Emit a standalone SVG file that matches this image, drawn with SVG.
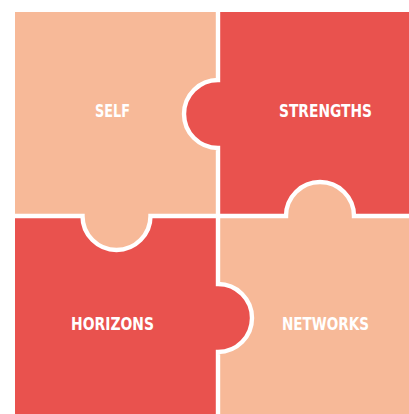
<svg xmlns="http://www.w3.org/2000/svg" width="409" height="414" viewBox="0 0 409 414">
<style>
.peach{fill:#F7B998}
.red{fill:#E9524E}
.lbl{font-family:"DejaVu Sans Condensed","Liberation Sans",sans-serif;font-weight:bold;font-size:18px;fill:#FFFFFF;text-anchor:middle}
.cut{fill:none;stroke:#FFFFFF;stroke-width:4.4}
</style>
<rect width="409" height="414" fill="#FFFFFF"/>
<g id="self">
<path class="peach" d="M15,12 H218 V80 A34,34 0 0 0 218,148 V216 H150.5 A34,34 0 0 1 82.5,216 H15 Z"/>
<text class="lbl" x="112.5" y="117" textLength="35" lengthAdjust="spacingAndGlyphs">SELF</text>
</g>
<g id="strengths">
<path class="red" d="M218,12 H409 V216 H354 A34,34 0 0 0 286,216 H218 V148 A34,34 0 0 1 218,80 Z"/>
<text class="lbl" x="325.5" y="117" textLength="93" lengthAdjust="spacingAndGlyphs">STRENGTHS</text>
</g>
<g id="horizons">
<path class="red" d="M15,216 H82.5 A34,34 0 0 0 150.5,216 H218 V284 A34,34 0 0 1 218,352 V414 H15 Z"/>
<text class="lbl" x="112.5" y="330" textLength="83" lengthAdjust="spacingAndGlyphs">HORIZONS</text>
</g>
<g id="networks">
<path class="peach" d="M218,216 H286 A34,34 0 0 1 354,216 H409 V414 H218 V352 A34,34 0 0 0 218,284 Z"/>
<text class="lbl" x="325.5" y="330" textLength="87" lengthAdjust="spacingAndGlyphs">NETWORKS</text>
</g>
<g id="connectors">
<path class="cut" d="M218,12 V80 A34,34 0 0 0 218,148 V284 A34,34 0 0 1 218,352 V414"/>
<path class="cut" d="M15,216 H82.5 A34,34 0 0 0 150.5,216 H286 A34,34 0 0 1 354,216 H409"/>
</g>
</svg>
